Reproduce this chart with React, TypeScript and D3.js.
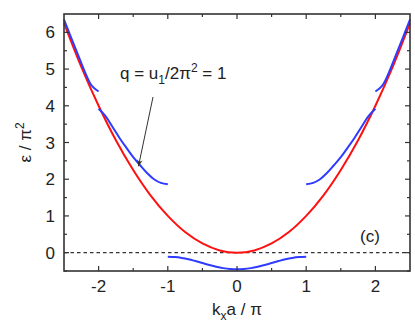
import * as d3 from "d3"

// reading of the picture: k a / pi on x, eps / pi^2 on y
const freeK = [-2.5, -2.25, -2, -1.75, -1.5, -1.25, -1, -0.75, -0.5, -0.25, 0, 0.25, 0.5, 0.75, 1, 1.25, 1.5, 1.75, 2, 2.25, 2.5]
const freeE = [6.25, 5.06, 4.0, 3.06, 2.25, 1.56, 1.0, 0.56, 0.25, 0.06, 0, 0.06, 0.25, 0.56, 1.0, 1.56, 2.25, 3.06, 4.0, 5.06, 6.25]

const band1K = [-1, -0.9, -0.8, -0.7, -0.6, -0.5, -0.4, -0.3, -0.2, -0.1, 0, 0.1, 0.2, 0.3, 0.4, 0.5, 0.6, 0.7, 0.8, 0.9, 1]
const band1E = [-0.11, -0.12, -0.143, -0.18, -0.23, -0.283, -0.336, -0.384, -0.422, -0.447, -0.455, -0.447, -0.422, -0.384, -0.336, -0.283, -0.23, -0.18, -0.143, -0.12, -0.11]

const band2K = [1, 1.1, 1.2, 1.3, 1.4, 1.5, 1.6, 1.7, 1.8, 1.9, 2]
const band2E = [1.86, 1.9, 2.0, 2.17, 2.38, 2.6, 2.86, 3.13, 3.43, 3.72, 3.92]

const band3K = [2, 2.1, 2.2, 2.3, 2.4, 2.5]
const band3E = [4.39, 4.55, 4.93, 5.4, 5.87, 6.35]

const xTicks = [-2, -1, 0, 1, 2]
const xMinor = [-1.5, -0.5, 0.5, 1.5]
const yTicks = [0, 1, 2, 3, 4, 5, 6]
const yMinor = [-0.5, 0.5, 1.5, 2.5, 3.5, 4.5, 5.5]

const W = 415
const H = 333
const m = { left: 64, right: 410, top: 14, bottom: 271 }
const font = "'Liberation Sans', Arial, sans-serif"
const axisColor = "#333"
const fs = 17

const App = () => {
  const x = d3.scaleLinear().domain([-2.5, 2.5]).range([m.left, m.right])
  const y = d3.scaleLinear().domain([-0.5, 6.5]).range([m.bottom, m.top])

  const line = d3
    .line<[number, number]>()
    .x((d) => x(d[0]))
    .y((d) => y(d[1]))
    .curve(d3.curveCatmullRom)

  const pts = (ks: number[], es: number[], sign = 1): [number, number][] =>
    ks.map((k, i) => [k * sign, es[i]])

  const blue = "#2f3cff"
  const red = "#ff1010"

  const bluePaths = [
    pts(band1K, band1E),
    pts(band2K, band2E),
    pts(band2K, band2E, -1),
    pts(band3K, band3E),
    pts(band3K, band3E, -1),
  ]

  return (
    <svg
      width={W}
      height={H}
      style={{ position: "absolute", left: 0, top: 0, background: "#fff" }}
      fontFamily={font}
    >
      <defs>
        <marker id="arr" viewBox="0 0 10 10" refX="9" refY="5" markerWidth="7" markerHeight="7" orient="auto">
          <path d="M0,1 L10,5 L0,9 L3,5 z" fill="#333" />
        </marker>
      </defs>

      {/* zero line */}
      <line
        x1={m.left}
        x2={m.right}
        y1={y(0)}
        y2={y(0)}
        stroke="#333"
        strokeWidth={1.3}
        strokeDasharray="3.5,3"
      />

      <path d={line(pts(freeK, freeE)) ?? ""} fill="none" stroke={red} strokeWidth={2} />
      {bluePaths.map((p, i) => (
        <path key={i} d={line(p) ?? ""} fill="none" stroke={blue} strokeWidth={2} />
      ))}

      {/* frame */}
      <rect
        x={m.left}
        y={m.top}
        width={m.right - m.left}
        height={m.bottom - m.top}
        fill="none"
        stroke={axisColor}
        strokeWidth={1.6}
      />

      {/* x ticks, inward on bottom and top */}
      {xTicks.map((t) => (
        <g key={"xt" + t}>
          <line x1={x(t)} x2={x(t)} y1={m.bottom} y2={m.bottom - 5} stroke={axisColor} strokeWidth={1.2} />
          <line x1={x(t)} x2={x(t)} y1={m.top} y2={m.top + 5} stroke={axisColor} strokeWidth={1.2} />
          <text x={x(t)} y={m.bottom + 21} textAnchor="middle" fontSize={fs} fill="#222">
            {t < 0 ? "-" + Math.abs(t) : t}
          </text>
        </g>
      ))}
      {xMinor.map((t) => (
        <g key={"xm" + t}>
          <line x1={x(t)} x2={x(t)} y1={m.bottom} y2={m.bottom - 3} stroke={axisColor} strokeWidth={1.2} />
          <line x1={x(t)} x2={x(t)} y1={m.top} y2={m.top + 3} stroke={axisColor} strokeWidth={1.2} />
        </g>
      ))}

      {/* y ticks, inward on left and right */}
      {yTicks.map((t) => (
        <g key={"yt" + t}>
          <line x1={m.left} x2={m.left + 5} y1={y(t)} y2={y(t)} stroke={axisColor} strokeWidth={1.2} />
          <line x1={m.right} x2={m.right - 5} y1={y(t)} y2={y(t)} stroke={axisColor} strokeWidth={1.2} />
          <text x={m.left - 9} y={y(t) + 6} textAnchor="end" fontSize={fs} fill="#222">
            {t}
          </text>
        </g>
      ))}
      {yMinor.map((t) => (
        <g key={"ym" + t}>
          <line x1={m.left} x2={m.left + 3} y1={y(t)} y2={y(t)} stroke={axisColor} strokeWidth={1.2} />
          <line x1={m.right} x2={m.right - 3} y1={y(t)} y2={y(t)} stroke={axisColor} strokeWidth={1.2} />
        </g>
      ))}

      {/* axis titles */}
      <text
        transform={`translate(31, ${(m.top + m.bottom) / 2}) rotate(-90)`}
        textAnchor="middle"
        fontSize={fs}
        fill="#222"
      >
        ε / π<tspan dy={-7} fontSize={12}>2</tspan>
      </text>
      <text x={(m.left + m.right) / 2} y={315} textAnchor="middle" fontSize={fs} fill="#222">
        k<tspan dy={5} fontSize={12}>x</tspan>
        <tspan dy={-5}>a / π</tspan>
      </text>

      {/* annotation */}
      <text x={120} y={79} fontSize={fs} fill="#222">
        q = u<tspan dy={5} fontSize={12}>1</tspan>
        <tspan dy={-5}>/2π</tspan>
        <tspan dy={-7} fontSize={12}>2</tspan>
        <tspan dy={7}> = 1</tspan>
      </text>
      <line x1={153} y1={97} x2={138.5} y2={166} stroke="#333" strokeWidth={1} markerEnd="url(#arr)" />

      <text x={370} y={242} textAnchor="middle" fontSize={fs} fill="#222">
        (c)
      </text>
    </svg>
  )
}

export default App
